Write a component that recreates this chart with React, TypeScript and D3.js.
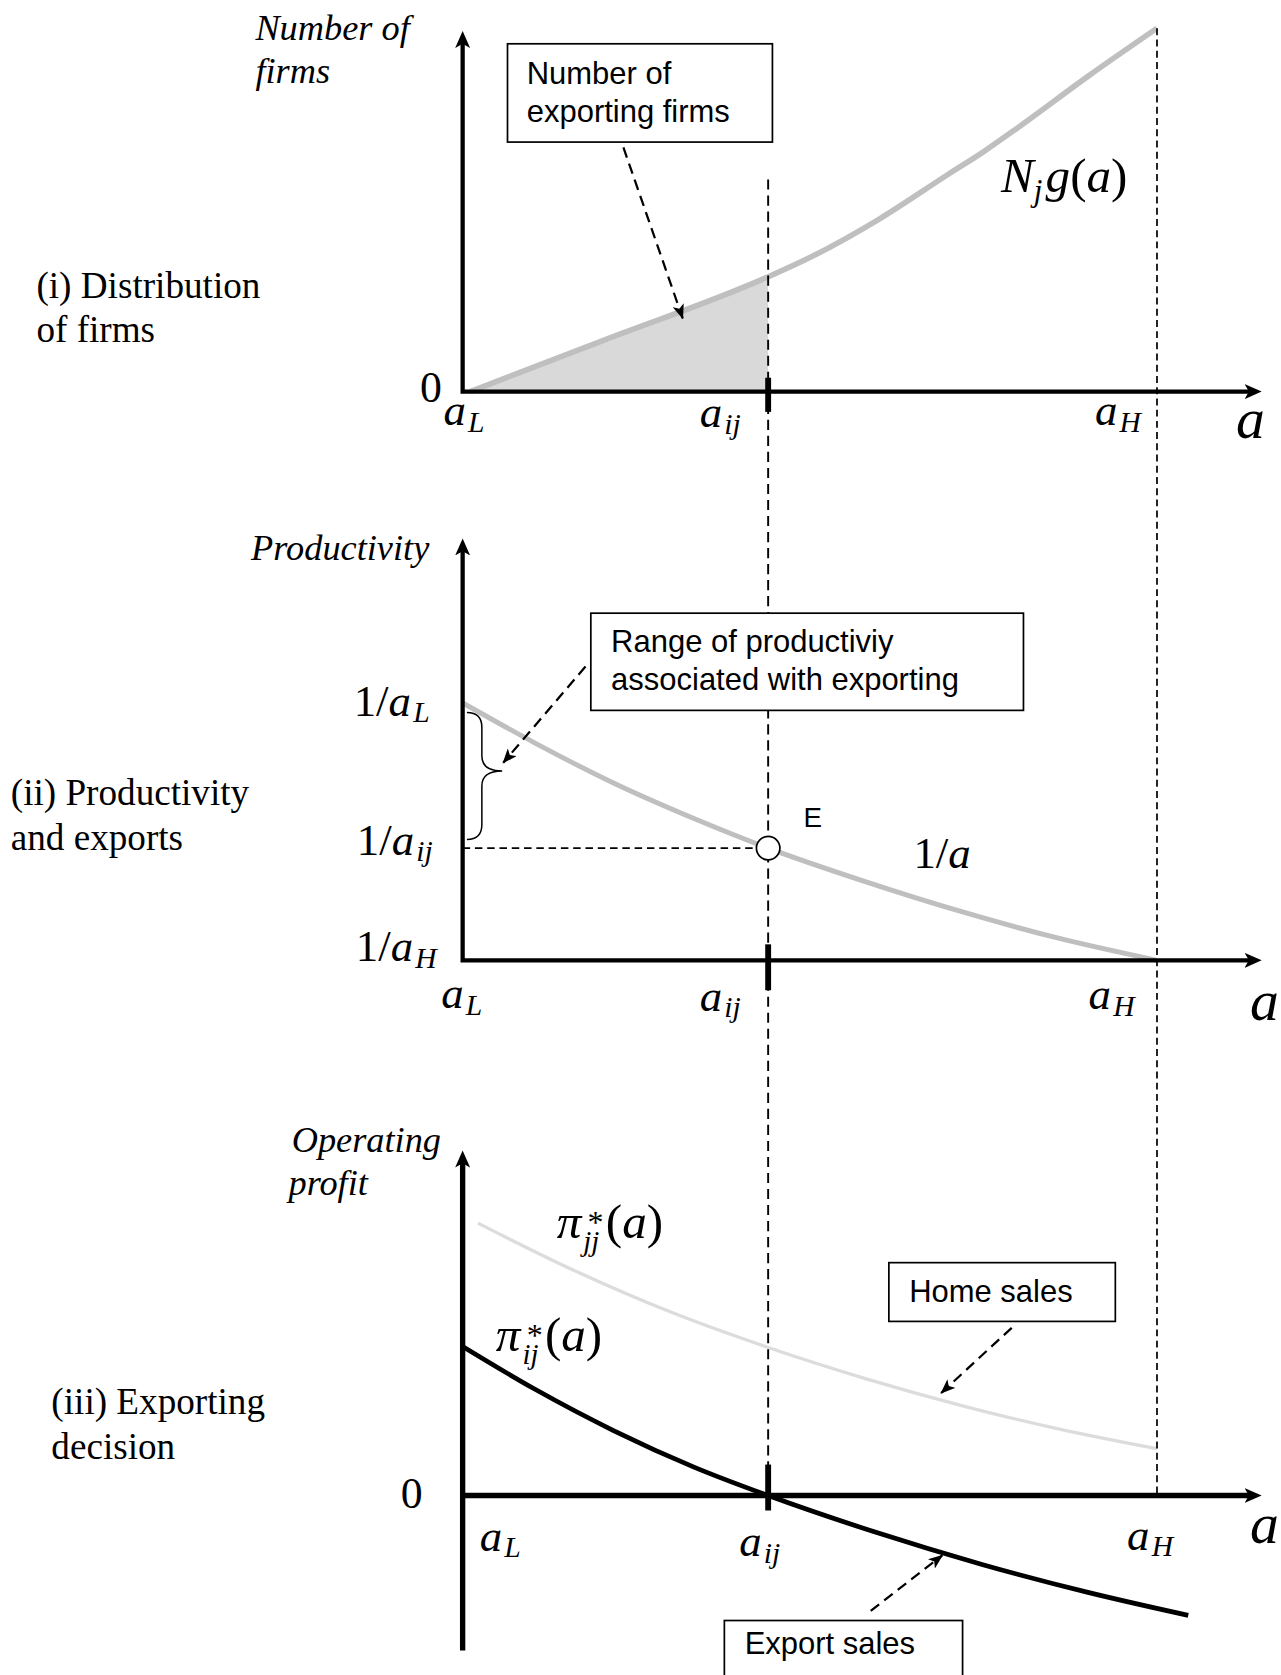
import React from 'react';
import * as d3 from 'd3';

// positions on the a axis
const A_L = 1.0;
const A_IJ = 1.44;
const A_H = 2.0;

// (i) distribution of firms N_j g(a)
const firmsA = [1.011, 1.2, 1.44, 1.5, 1.6, 1.7, 1.75, 1.8, 1.9, 2.0];
const firmsN = [0, 13.9, 31.6, 36.9, 47.5, 59.9, 66.0, 72.7, 86.7, 100];

// (ii) productivity 1/a
const prodA = [1.0, 1.103, 1.218, 1.334, 1.44, 1.582, 1.72, 1.858, 2.0];
const prodV = [1.0, 0.923, 0.844, 0.775, 0.718, 0.652, 0.594, 0.543, 0.5];

// (iii) operating profit
const homeA = [1.022, 1.16, 1.298, 1.44, 1.58, 1.72, 1.858, 2.0];
const homeV = [85.0, 70.3, 57.4, 46.2, 36.5, 28.0, 20.8, 14.6];
const exportA = [1.0, 1.103, 1.218, 1.334, 1.44, 1.594, 1.748, 1.902, 2.045];
const exportV = [46.5, 33.3, 20.2, 8.8, 0, -11.4, -21.5, -30.3, -37.4];

const panelLabels = [
  ['(i) Distribution', 'of firms'],
  ['(ii) Productivity', 'and exports'],
  ['(iii) Exporting', 'decision'],
];
const axisTitles = [['Number of', 'firms'], ['Productivity'], ['Operating', 'profit']];
const calloutFirms = ['Number of', 'exporting firms'];
const calloutRange = ['Range of productiviy', 'associated with exporting'];
const calloutHome = ['Home sales'];
const calloutExport = ['Export sales'];

const SERIF = "'Liberation Serif', 'Times New Roman', Times, serif";
const SANS = "'Liberation Sans', Arial, Helvetica, sans-serif";

const zip = (xs: number[], ys: number[]) => xs.map((a, i) => [a, ys[i]] as [number, number]);

const ASub = ({ x, y, sub, size = 42, pre = '' }: any) => (
  <text x={x} y={y} fontFamily={SERIF} fontSize={size} fill="#000">
    {pre}
    <tspan fontStyle="italic">a</tspan>
    <tspan fontStyle="italic" fontSize={size * 0.66} dx={2} dy={6}>{sub}</tspan>
  </text>
);

const Callout = ({ x, y, w, h, lines, tx, ty, lh = 35 }: any) => (
  <g>
    <rect x={x} y={y} width={w} height={h} fill="#fff" stroke="#000" strokeWidth={1.6} />
    {lines.map((l: string, i: number) => (
      <text key={i} x={tx} y={ty + i * lh} fontFamily={SANS} fontSize={29} fill="#000">{l}</text>
    ))}
  </g>
);

const PiLabel = ({ x, y, sub }: any) => (
  <text x={x} y={y} fontFamily={SERIF} fontSize={46} fill="#000">
    <tspan fontStyle="italic">π</tspan>
    <tspan x={x + 29} y={y - 5} fontSize={30}>*</tspan>
    <tspan x={x + 25} y={y + 12} fontSize={27} fontStyle="italic">{sub}</tspan>
    <tspan x={x + 46} y={y}>(</tspan>
    <tspan fontStyle="italic">a</tspan>
    <tspan>)</tspan>
  </text>
);

export default function App() {
  const x = d3.scaleLinear().domain([A_L, A_H]).range([433, 1083]);
  const yFirms = d3.scaleLinear().domain([0, 100]).range([366.6, 26.5]);
  const yProd = d3.scaleLinear().domain([0.5, 1.0]).range([899, 658]);
  const yProfit = d3.scaleLinear().domain([0, 100]).range([1400, 1100]);

  const x0 = x(A_L);
  const xij = x(A_IJ);
  const xH = x(A_H);
  const xTip = 1182;
  const base1 = yFirms(0);
  const base2 = yProd(prodV[prodV.length - 1]);
  const base3 = yProfit(0);

  const firms = zip(firmsA, firmsN);
  const firmsLine = d3.line<[number, number]>().x(d => x(d[0])).y(d => yFirms(d[1])).curve(d3.curveMonotoneX);
  const firmsArea = d3.area<[number, number]>().x(d => x(d[0])).y0(base1).y1(d => yFirms(d[1])).curve(d3.curveMonotoneX);
  const shaded = firms.filter(d => d[0] <= A_IJ);

  const prodLine = d3.line<[number, number]>().x(d => x(d[0])).y(d => yProd(d[1])).curve(d3.curveMonotoneX);
  const profitLine = d3.line<[number, number]>().x(d => x(d[0])).y(d => yProfit(d[1])).curve(d3.curveMonotoneX);

  const eVal = prodV[prodA.indexOf(A_IJ)];
  const eY = yProd(eVal);
  const topY = yProd(prodV[0]);
  const bTop = topY + 9;
  const bBot = eY - 8;
  const bMid = bTop + (bBot - bTop) * 0.46;
  const brace = `M${x0 + 4},${bTop} Q${x0 + 18},${bTop} ${x0 + 18},${bTop + 14} L${x0 + 18},${bMid - 14} Q${x0 + 18},${bMid} ${x0 + 37},${bMid} Q${x0 + 18},${bMid} ${x0 + 18},${bMid + 14} L${x0 + 18},${bBot - 14} Q${x0 + 18},${bBot} ${x0 + 4},${bBot}`;

  const tops = [28, 503, 1076];
  const dashArrow = { stroke: '#000', strokeWidth: 2.1, strokeDasharray: '10,6', markerEnd: 'url(#smallArrow)' };

  return (
    <div style={{ position: 'absolute', left: 0, top: 0 }}>
      <svg width={1281} height={1675} viewBox="0 0 1199 1568" style={{ display: 'block', background: '#fff' }}>
        <defs>
          <marker id="axisArrow" viewBox="0 0 16 14" refX={5} refY={7} markerWidth={16} markerHeight={14}
            markerUnits="userSpaceOnUse" orient="auto-start-reverse">
            <path d="M0,0 L16,7 L0,14 L4,7 Z" fill="#000" />
          </marker>
          <marker id="smallArrow" viewBox="0 0 14 11" refX={13} refY={5.5} markerWidth={14} markerHeight={11}
            markerUnits="userSpaceOnUse" orient="auto">
            <path d="M0,0 L14,5.5 L0,11 L3.5,5.5 Z" fill="#000" />
          </marker>
        </defs>

        {/* panel (i) */}
        <path d={firmsArea(shaded) || ''} fill="#d9d9d9" />
        <path d={firmsLine(firms) || ''} fill="none" stroke="#bfbfbf" strokeWidth={5.2} />

        {/* panel (ii) */}
        <path d={prodLine(zip(prodA, prodV)) || ''} fill="none" stroke="#bfbfbf" strokeWidth={4.6} />
        <line x1={x0} x2={xij - 11} y1={eY} y2={eY} stroke="#000" strokeWidth={1.6} strokeDasharray="7,4.5" />
        <path d={brace} fill="none" stroke="#000" strokeWidth={1.4} />

        {/* panel (iii) */}
        <path d={profitLine(zip(homeA, homeV)) || ''} fill="none" stroke="#dcdcdc" strokeWidth={3.1} />
        <path d={profitLine(zip(exportA, exportV)) || ''} fill="none" stroke="#000" strokeWidth={4.4} />

        {/* vertical guides */}
        <line x1={xij} x2={xij} y1={168} y2={base3} stroke="#000" strokeWidth={1.8} strokeDasharray="9.5,5.5" />
        <line x1={xH} x2={xH} y1={yFirms(100)} y2={base3} stroke="#000" strokeWidth={1.6} strokeDasharray="6.5,4" />

        {/* axes */}
        <path d={`M${x0},${tops[0] + 12} V${base1} H${xTip - 12}`} fill="none" stroke="#000" strokeWidth={4}
          markerStart="url(#axisArrow)" markerEnd="url(#axisArrow)" />
        <path d={`M${x0},${tops[1] + 12} V${base2} H${xTip - 12}`} fill="none" stroke="#000" strokeWidth={4}
          markerStart="url(#axisArrow)" markerEnd="url(#axisArrow)" />
        <path d={`M${x0},${tops[2] + 12} V1545`} fill="none" stroke="#000" strokeWidth={5}
          markerStart="url(#axisArrow)" />
        <path d={`M${x0},${base3} H${xTip - 12}`} fill="none" stroke="#000" strokeWidth={5}
          markerEnd="url(#axisArrow)" />

        {/* a_ij ticks */}
        <line x1={xij} x2={xij} y1={base1 - 13} y2={base1 + 19} stroke="#000" strokeWidth={5.5} />
        <line x1={xij} x2={xij} y1={base2 - 15} y2={base2 + 28} stroke="#000" strokeWidth={5.5} />
        <line x1={xij} x2={xij} y1={base3 - 29} y2={base3 + 14} stroke="#000" strokeWidth={5.5} />

        {/* point E */}
        <circle cx={xij} cy={eY} r={11} fill="#fff" stroke="#000" strokeWidth={1.6} />
        <text x={752} y={774} fontFamily={SANS} fontSize={26}>E</text>

        {/* callouts */}
        <Callout x={475} y={41} w={248} h={92} lines={calloutFirms} tx={493} ty={79} />
        <line x1={583.5} y1={138} x2={639} y2={298} {...dashArrow} />

        <Callout x={553} y={574} w={405} h={91} lines={calloutRange} tx={572} ty={610} lh={36} />
        <line x1={548} y1={624} x2={471} y2={714} {...dashArrow} />

        <Callout x={832} y={1182} w={212} h={55} lines={calloutHome} tx={851} ty={1219} />
        <line x1={947} y1={1243} x2={881} y2={1304} {...dashArrow} />

        <Callout x={678} y={1517} w={223} h={58} lines={calloutExport} tx={697} ty={1548} />
        <line x1={815} y1={1508} x2={882} y2={1456} {...dashArrow} />

        {/* axis titles */}
        <g fontFamily={SERIF} fontStyle="italic" fontSize={34} fill="#000">
          <text x={239} y={37}>{axisTitles[0][0]}</text>
          <text x={239} y={78}>{axisTitles[0][1]}</text>
          <text x={235} y={524}>{axisTitles[1][0]}</text>
          <text x={273} y={1078}>{axisTitles[2][0]}</text>
          <text x={270} y={1119}>{axisTitles[2][1]}</text>
        </g>

        {/* panel labels */}
        <g fontFamily={SERIF} fontSize={34.8} fill="#000">
          <text x={34} y={279}>{panelLabels[0][0]}</text>
          <text x={34} y={320}>{panelLabels[0][1]}</text>
          <text x={10} y={754}>{panelLabels[1][0]}</text>
          <text x={10} y={796}>{panelLabels[1][1]}</text>
          <text x={48} y={1324}>{panelLabels[2][0]}</text>
          <text x={48} y={1366}>{panelLabels[2][1]}</text>
        </g>

        {/* zero labels */}
        <text x={393} y={376} fontFamily={SERIF} fontSize={41}>0</text>
        <text x={375} y={1412} fontFamily={SERIF} fontSize={41}>0</text>

        {/* a tick labels */}
        <ASub x={415} y={398} sub="L" />
        <ASub x={655} y={400} sub="ij" />
        <ASub x={1025} y={398} sub="H" />
        <text x={1157} y={410} fontFamily={SERIF} fontStyle="italic" fontSize={54}>a</text>

        <ASub x={413} y={944} sub="L" />
        <ASub x={655} y={946} sub="ij" />
        <ASub x={1019} y={945} sub="H" />
        <text x={1170} y={955} fontFamily={SERIF} fontStyle="italic" fontSize={54}>a</text>

        <ASub x={449} y={1452} sub="L" />
        <ASub x={692} y={1457} sub="ij" />
        <ASub x={1055} y={1451} sub="H" />
        <text x={1170} y={1444} fontFamily={SERIF} fontStyle="italic" fontSize={54}>a</text>

        {/* productivity levels */}
        <ASub x={331} y={670} sub="L" pre="1/" />
        <ASub x={334} y={800} sub="ij" pre="1/" />
        <ASub x={333} y={900} sub="H" pre="1/" />

        {/* curve labels */}
        <text x={937} y={180} fontFamily={SERIF} fontSize={46}>
          <tspan fontStyle="italic">N</tspan>
          <tspan fontStyle="italic" fontSize={29} dy={8}>j</tspan>
          <tspan fontStyle="italic" dx={3} dy={-8}>g</tspan>(<tspan fontStyle="italic">a</tspan>)
        </text>
        <text x={855} y={813} fontFamily={SERIF} fontSize={42}>1/<tspan fontStyle="italic">a</tspan></text>
        <PiLabel x={521} y={1159} sub="jj" />
        <PiLabel x={464} y={1265} sub="ij" />
      </svg>
    </div>
  );
}
